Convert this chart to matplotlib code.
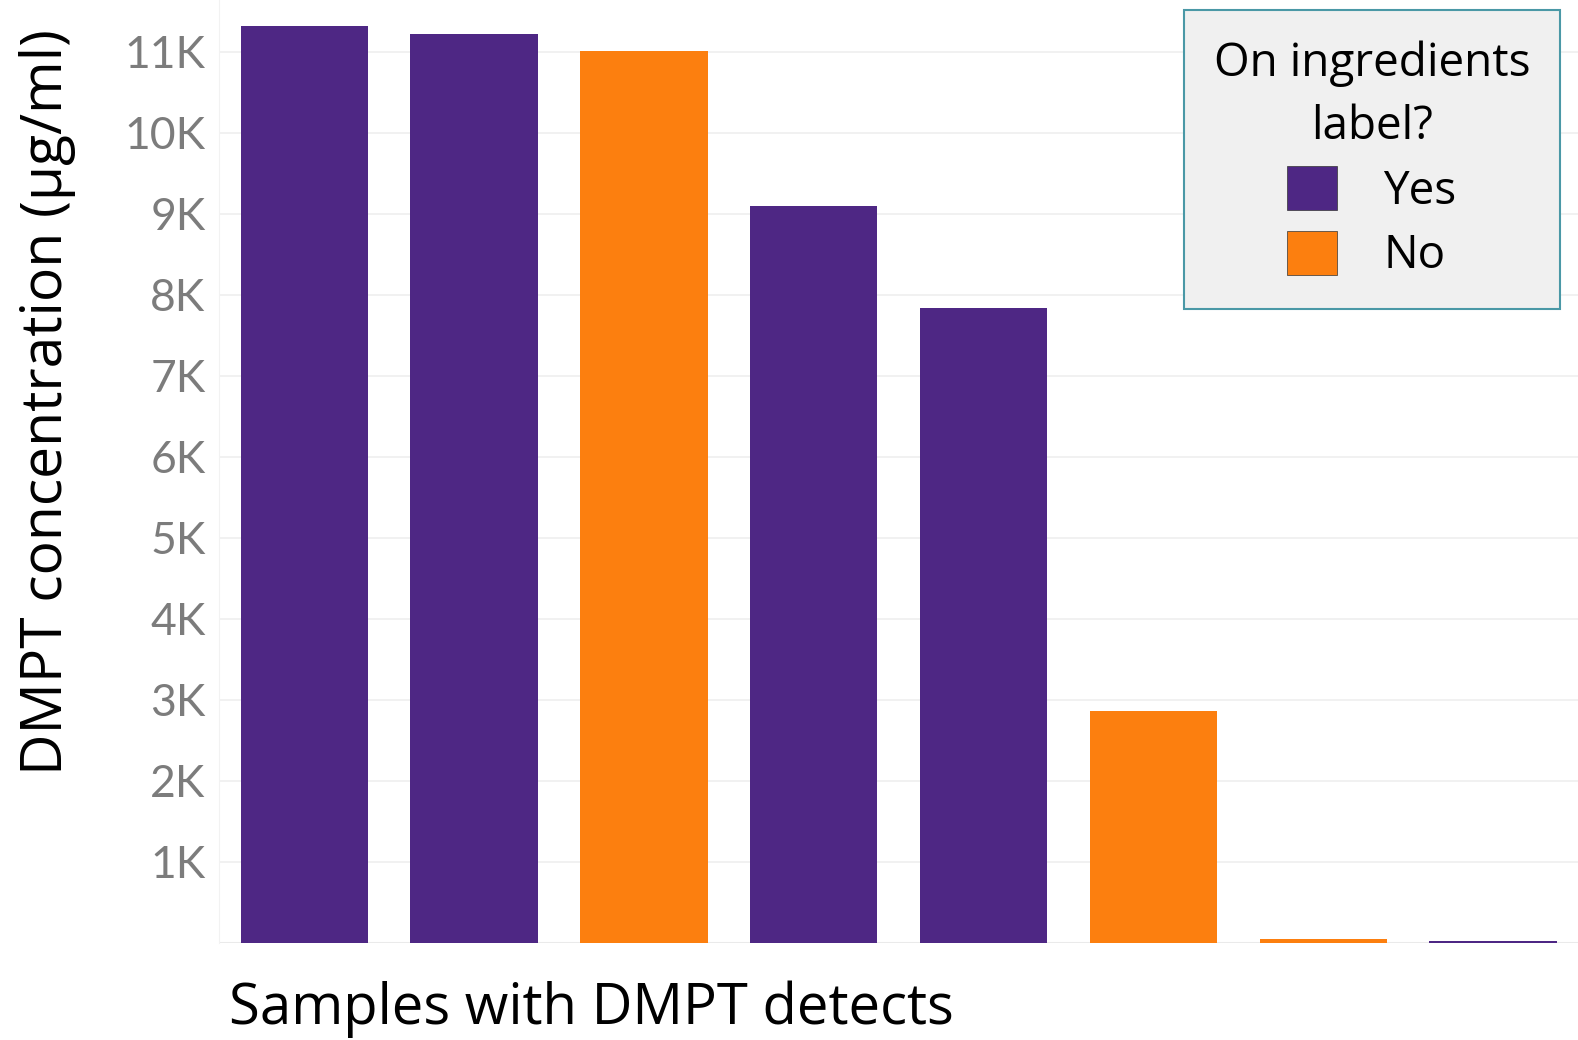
import matplotlib
matplotlib.use("Agg")
from matplotlib import pyplot as plt
from matplotlib.patches import Patch
from matplotlib.ticker import FuncFormatter

samples = ["S1", "S2", "S3", "S4", "S5", "S6", "S7", "S8"]
concentration = [11320, 11220, 11010, 9100, 7840, 2860, 50, 30]
on_label = ["Yes", "Yes", "No", "Yes", "Yes", "No", "No", "Yes"]
y_ticks = [1000, 2000, 3000, 4000, 5000, 6000, 7000, 8000, 9000, 10000, 11000]

palette = {"Yes": "#4E2784", "No": "#FC7F0F"}

fig = plt.figure(figsize=(15.78, 10.4), dpi=100)
ax = fig.add_axes([0.139, 0.0933, 0.861, 0.9067])

colors = [palette[v] for v in on_label]
ax.bar(range(len(samples)), concentration, width=0.75, color=colors, zorder=3)

ax.set_xlim(-0.5, len(samples) - 0.5)
ax.set_ylim(0, 11640)
ax.set_xticks([])
ax.set_yticks(y_ticks)
ax.yaxis.set_major_formatter(FuncFormatter(lambda v, p: f"{int(v / 1000)}K"))
ax.tick_params(axis="y", length=0, labelsize=32, labelcolor="#7C7C7C", pad=10)
for lab in ax.get_yticklabels():
    lab.set_family("Lato")
ax.grid(axis="y", color="#EFEFEF", linewidth=1.2, zorder=0)
ax.axhline(0, color="#EAEAEA", linewidth=1.5, zorder=1)
for side in ["top", "right", "bottom"]:
    ax.spines[side].set_visible(False)
ax.spines["left"].set_color("#F2F2F2")

fig.text(0.03, 0.613, "DMPT concentration (µg/ml)", rotation=90,
         ha="center", va="center", fontsize=41, family="Open Sans")
fig.text(0.145, 0.030, "Samples with DMPT detects", ha="left", va="center",
         fontsize=40.5, family="Open Sans")

handles = [Patch(facecolor=palette["Yes"], edgecolor="#333333", linewidth=0.5, label="Yes"),
           Patch(facecolor=palette["No"], edgecolor="#333333", linewidth=0.5, label="No")]
leg = ax.legend(handles=handles, title="On ingredients\nlabel?", loc="upper right",
                bbox_to_anchor=(0.9867, 0.989), borderaxespad=0, fontsize=33,
                title_fontsize=33, handlelength=1.1, handleheight=1.1,
                labelspacing=0.35, handletextpad=1.0, borderpad=0.65,
                fancybox=False, frameon=True, alignment="center")
leg.get_frame().set_facecolor("#F0F0F0")
leg.get_frame().set_edgecolor("#4A98A6")
leg.get_frame().set_linewidth(1.5)
leg.get_frame().set_alpha(1)
plt.setp(leg.get_texts(), family="Open Sans")
leg.get_title().set_family("Open Sans")
leg.get_title().set_multialignment("center")
leg.get_title().set_linespacing(1.5)

fig.savefig("out.png", dpi=100)
